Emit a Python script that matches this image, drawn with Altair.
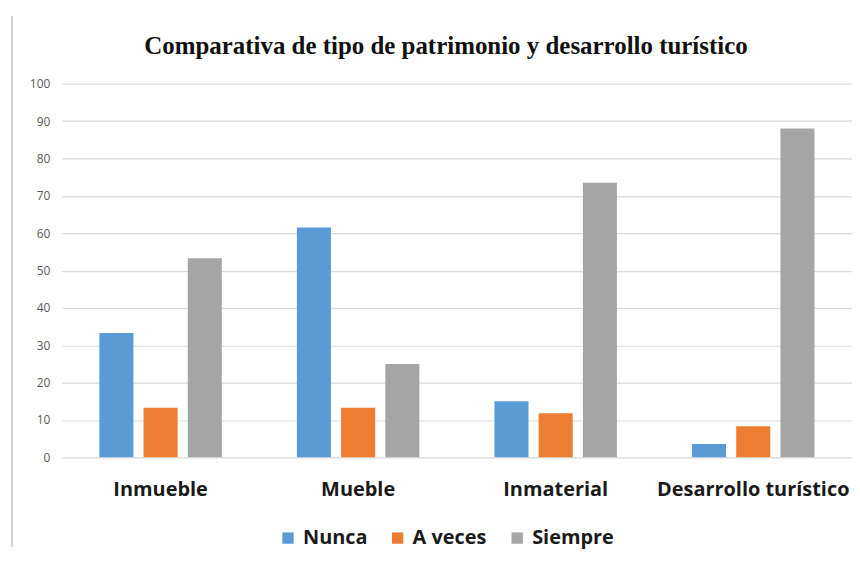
import altair as alt
import pandas as pd

categories = ["Inmueble", "Mueble", "Inmaterial", "Desarrollo turístico"]
series = ["Nunca", "A veces", "Siempre"]
nunca = [33.3, 61.5, 15.0, 3.6]
a_veces = [13.3, 13.3, 11.8, 8.3]
siempre = [53.3, 25.0, 73.5, 88.0]
colors = ["#5B9BD5", "#ED7D31", "#A5A5A5"]
y_ticks = [0, 10, 20, 30, 40, 50, 60, 70, 80, 90, 100]

rows = []
for i, c in enumerate(categories):
    for s, vals in zip(series, [nunca, a_veces, siempre]):
        rows.append({"categoria": c, "serie": s, "valor": vals[i]})
df = pd.DataFrame(rows)

bars = alt.Chart(df).mark_bar().encode(
    x=alt.X("categoria:N", sort=categories,
            scale=alt.Scale(paddingInner=0.38, paddingOuter=0.19),
            axis=alt.Axis(title=None, labelAngle=0, labelFont="Open Sans", labelFontSize=20,
                          labelFontWeight="bold", labelColor="#1a1a1a", labelPadding=22,
                          labelLimit=0, ticks=False, domain=False)),
    xOffset=alt.XOffset("serie:N", sort=series,
                        scale=alt.Scale(paddingInner=0.23, paddingOuter=0)),
    y=alt.Y("valor:Q", scale=alt.Scale(domain=[0, 100]),
            axis=alt.Axis(title=None, values=y_ticks, labelFont="Open Sans", labelFontSize=12,
                          labelColor="#595959", labelPadding=12, ticks=False, domain=False,
                          gridColor="#D9D9D9", gridWidth=1.2)),
    color=alt.Color("serie:N", sort=series,
                    scale=alt.Scale(domain=series, range=colors),
                    legend=alt.Legend(title=None, orient="none", direction="horizontal",
                                      legendX=217, legendY=446, symbolType="square",
                                      symbolSize=130, symbolStrokeWidth=0, labelLimit=0,
                                      labelFont="Open Sans", labelFontSize=20, labelFontWeight="bold",
                                      labelColor="#1a1a1a", columnPadding=20, labelOffset=5)),
)

frame = alt.Chart(df).mark_rule(color="#D0D0D0", strokeWidth=1.5).encode(
    x=alt.value(-50), y=alt.value(-68), y2=alt.value(465)
)

chart = alt.layer(frame, bars).properties(
    width=793, height=375,
    title=alt.TitleParams("Comparativa de tipo de patrimonio y desarrollo turístico",
                          font="Liberation Serif", fontSize=25, fontWeight="bold",
                          color="#111111", anchor="middle", offset=-64, frame="group",
                          baseline="alphabetic", dx=-11),
    autosize=alt.AutoSizeParams(type="none"),
    padding={"left": 54, "top": 75, "right": 0, "bottom": 95},
).configure_view(stroke=None)

chart.save("out.html", embed_options={"renderer": "svg", "actions": False})
